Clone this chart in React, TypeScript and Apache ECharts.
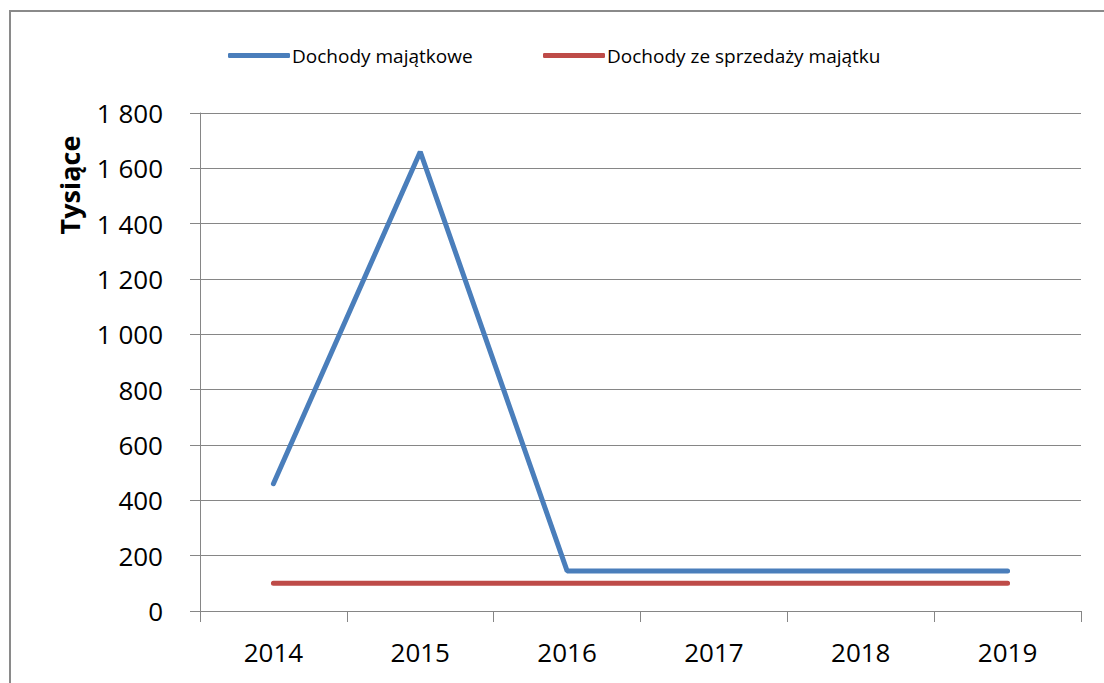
import React, { useEffect, useRef } from "react";
import * as echarts from "echarts";

const years = ["2014", "2015", "2016", "2017", "2018", "2019"];
const dochodyMajatkowe = [460, 1660, 145, 145, 145, 145];
const dochodySprzedazy = [100, 100, 100, 100, 100, 100];
const seriesNames = ["Dochody majątkowe", "Dochody ze sprzedaży majątku"];
const yTitle = "Tysiące";

const FONT = "'Open Sans', 'Liberation Sans', sans-serif";

export default function App() {
  const ref = useRef<HTMLDivElement>(null);
  useEffect(() => {
    document.body.style.margin = "0";
    const chart = echarts.init(ref.current!, null, { renderer: "svg" });
    const legendBase = {
      top: 41,
      itemWidth: 62,
      itemHeight: 5,
      icon: "roundRect",
      textStyle: { fontFamily: FONT, fontSize: 19, color: "#000", padding: [0, 0, 0, -3] },
    };
    chart.setOption({
      animation: false,
      backgroundColor: "#ffffff",
      legend: [
        { ...legendBase, left: 223, data: [seriesNames[0]] },
        { ...legendBase, left: 538, data: [seriesNames[1]] },
      ],
      graphic: [
        {
          type: "rect",
          shape: { x: 10, y: 11, width: 1120, height: 700 },
          style: { fill: "none", stroke: "#8a8a8a", lineWidth: 2 },
          silent: true,
        },
        {
          type: "text",
          x: 69,
          y: 185,
          rotation: Math.PI / 2,
          style: {
            text: yTitle,
            fontFamily: FONT,
            fontSize: 27,
            fontWeight: "bold",
            fill: "#000",
            align: "center",
            verticalAlign: "middle",
          },
        },
      ],
      grid: { left: 200, top: 113, width: 881, height: 498 },
      xAxis: {
        type: "category",
        data: years,
        boundaryGap: true,
        axisLine: { lineStyle: { color: "#868686", width: 1 } },
        axisTick: { show: true, length: 11, lineStyle: { color: "#868686" } },
        axisLabel: { fontFamily: FONT, fontSize: 26, color: "#000", margin: 28 },
      },
      yAxis: {
        type: "value",
        min: 0,
        max: 1800,
        interval: 200,
        axisLine: { show: true, lineStyle: { color: "#868686", width: 1 } },
        axisTick: { show: true, length: 10, lineStyle: { color: "#868686" } },
        splitLine: { lineStyle: { color: "#868686", width: 1 } },
        axisLabel: {
          fontFamily: FONT,
          fontSize: 26,
          color: "#000",
          margin: 37,
          formatter: (v: number) => (v >= 1000 ? Math.floor(v / 1000) + " " + String(v % 1000).padStart(3, "0") : String(v)),
        },
      },
      series: [
        {
          name: seriesNames[0],
          type: "line",
          data: dochodyMajatkowe,
          symbol: "none",
          color: "#4A7EBB",
          lineStyle: { width: 5, color: "#4A7EBB", cap: "round" },
        },
        {
          name: seriesNames[1],
          type: "line",
          data: dochodySprzedazy,
          symbol: "none",
          color: "#BE4B48",
          lineStyle: { width: 5, color: "#BE4B48", cap: "round" },
        },
      ],
    });
    return () => chart.dispose();
  }, []);
  return <div ref={ref} style={{ width: 1104, height: 683 }} />;
}
